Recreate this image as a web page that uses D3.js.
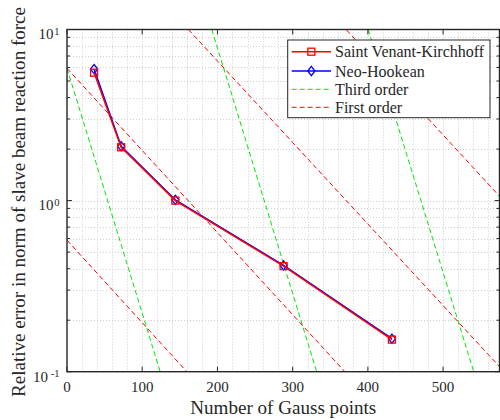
<!DOCTYPE html>
<html>
<head>
<meta charset="utf-8">
<script src="https://cdn.jsdelivr.net/npm/d3@7"></script>
<style>
  html, body { margin: 0; padding: 0; background: #fff; }
  svg { display: block; }
  text { font-family: "Liberation Serif", "Times New Roman", serif; fill: #262626; }
</style>
</head>
<body>
<svg id="chart" width="500" height="420"></svg>
<script>
// Gauss point counts and errors for the two material models
const gaussPoints = [36, 72, 144, 288, 432];
const svkError = [5.59, 2.05, 1.0, 0.414, 0.154];
const neoHookeanError = [5.87, 2.08, 1.01, 0.418, 0.156];

// Reference slope lines, each given by two end points [x, y]
const firstOrderLines = [
  [[0, 5.93], [369.4, 0.1]],
  [[0, 0.587], [159.3, 0.1]],
  [[161.4, 10], [575, 0.107]],
  [[371.7, 9.93], [575, 1.06]]
];
const thirdOrderLines = [
  [[0, 5.93], [123.9, 0.1]],
  [[192.5, 10], [331.9, 0.1]],
  [[400.4, 10], [540.7, 0.1]]
];

const xTicks = [0, 100, 200, 300, 400, 500];
const yTicks = [0.1, 1, 10];
const yTickExponents = ["-1", "0", "1"];
const xDomain = [0, 575];
const yDomain = [0.1, 10];

const legendLabels = ["Saint Venant-Kirchhoff", "Neo-Hookean", "Third order", "First order"];
const xLabel = "Number of Gauss points";
const yLabel = "Relative error in norm of slave beam reaction force";

const svg = d3.select("#chart");
const plotL = 67, plotR = 499.5, plotT = 29.5, plotB = 371.7;

const x = d3.scaleLinear().domain(xDomain).range([plotL, plotR]);
const y = d3.scaleLog().domain(yDomain).range([plotB, plotT]);

svg.append("rect").attr("width", 500).attr("height", 420).attr("fill", "#fff");

svg.append("defs").append("clipPath").attr("id", "plotClip")
  .append("rect").attr("x", plotL).attr("y", plotT)
  .attr("width", plotR - plotL).attr("height", plotB - plotT);

// Grid: dotted lines at every 20 units in x and at 1..9 per decade in y
const grid = svg.append("g").attr("stroke", "#cfcfcf").attr("stroke-width", 1)
  .attr("stroke-dasharray", "1,2");
const xGrid = d3.range(20, xDomain[1], 20);
grid.selectAll(".gx").data(xGrid).join("line")
  .attr("x1", d => Math.round(x(d)) + 0.5).attr("x2", d => Math.round(x(d)) + 0.5)
  .attr("y1", plotT).attr("y2", plotB);
const yGrid = y.ticks().filter(d => d > yDomain[0] && d < yDomain[1]);
grid.selectAll(".gy").data(yGrid).join("line")
  .attr("y1", d => Math.round(y(d)) + 0.5).attr("y2", d => Math.round(y(d)) + 0.5)
  .attr("x1", plotL).attr("x2", plotR);

// Reference lines
const plot = svg.append("g").attr("clip-path", "url(#plotClip)");
const line = d3.line().x(d => x(d[0])).y(d => y(d[1]));
plot.selectAll(".third").data(thirdOrderLines).join("path")
  .attr("d", line).attr("fill", "none").attr("stroke", "#00e600")
  .attr("stroke-width", 1).attr("stroke-dasharray", "5,3");
plot.selectAll(".first").data(firstOrderLines).join("path")
  .attr("d", line).attr("fill", "none").attr("stroke", "#ff0000")
  .attr("stroke-width", 1).attr("stroke-dasharray", "5,3");

// Data series
const seriesLine = d3.line().x(d => x(d[0])).y(d => y(d[1]));
const neoPts = gaussPoints.map((g, i) => [g, neoHookeanError[i]]);
const svkPts = gaussPoints.map((g, i) => [g, svkError[i]]);

function diamondPath(cx, cy) {
  const w = 3.6, h = 4.6;
  return `M${cx},${cy - h}L${cx + w},${cy}L${cx},${cy + h}L${cx - w},${cy}Z`;
}

svg.append("path").attr("d", seriesLine(neoPts)).attr("fill", "none")
  .attr("stroke", "#0000ff").attr("stroke-width", 1.5);
svg.selectAll(".neoMark").data(neoPts).join("path")
  .attr("d", d => diamondPath(x(d[0]), y(d[1])))
  .attr("fill", "none").attr("stroke", "#0000ff").attr("stroke-width", 1.3);

svg.append("path").attr("d", seriesLine(svkPts)).attr("fill", "none")
  .attr("stroke", "#ff0000").attr("stroke-width", 1.5);
svg.selectAll(".svkMark").data(svkPts).join("rect")
  .attr("x", d => x(d[0]) - 3.5).attr("y", d => y(d[1]) - 3.5)
  .attr("width", 7).attr("height", 7)
  .attr("fill", "none").attr("stroke", "#ff0000").attr("stroke-width", 1.3);

// Axes box and ticks (inward on all four sides)
const axisColor = "#262626";
svg.append("rect").attr("x", plotL).attr("y", plotT)
  .attr("width", plotR - plotL).attr("height", plotB - plotT)
  .attr("fill", "none").attr("stroke", axisColor).attr("stroke-width", 1.4);

const ticks = svg.append("g").attr("stroke", axisColor).attr("stroke-width", 1);
xTicks.forEach(t => {
  ticks.append("line").attr("x1", x(t)).attr("x2", x(t)).attr("y1", plotB).attr("y2", plotB - 5);
  ticks.append("line").attr("x1", x(t)).attr("x2", x(t)).attr("y1", plotT).attr("y2", plotT + 5);
});
y.ticks().forEach(t => {
  const major = yTicks.some(v => Math.abs(v - t) < 1e-9);
  const len = major ? 5 : 3;
  ticks.append("line").attr("x1", plotL).attr("x2", plotL + len).attr("y1", y(t)).attr("y2", y(t));
  ticks.append("line").attr("x1", plotR).attr("x2", plotR - len).attr("y1", y(t)).attr("y2", y(t));
});

// Tick labels
svg.selectAll(".xl").data(xTicks).join("text")
  .attr("x", d => x(d)).attr("y", plotB + 20.5)
  .attr("text-anchor", "middle").attr("font-size", 15).text(d => d);

yTicks.forEach((t, i) => {
  const ty = y(t);
  const supW = yTickExponents[i].length > 1 ? 10.5 : 5;
  svg.append("text").attr("x", 59.5 - supW - 1).attr("y", ty + 9.8)
    .attr("text-anchor", "end").attr("font-size", 15).text("10");
  svg.append("text").attr("x", 59.5).attr("y", ty + 5).attr("text-anchor", "end")
    .attr("font-size", 10.5).text(yTickExponents[i]);
});

// Axis titles
svg.append("text").attr("x", (plotL + plotR) / 2).attr("y", 414)
  .attr("text-anchor", "middle").attr("font-size", 18)
  .attr("textLength", 186).attr("lengthAdjust", "spacingAndGlyphs").text(xLabel);
svg.append("text").attr("transform", "translate(25,202) rotate(-90)")
  .attr("text-anchor", "middle").attr("font-size", 18)
  .attr("textLength", 390).attr("lengthAdjust", "spacingAndGlyphs").text(yLabel);

// Legend
const lg = svg.append("g");
lg.append("rect").attr("x", 287.7).attr("y", 40).attr("width", 202.3).attr("height", 77.7)
  .attr("fill", "#fff").attr("stroke", axisColor).attr("stroke-width", 1);
const rowY = [51.7, 71, 89.3, 107.3];
const lx1 = 291.7, lx2 = 331, lxm = (lx1 + lx2) / 2;
lg.append("line").attr("x1", lx1).attr("x2", lx2).attr("y1", rowY[0]).attr("y2", rowY[0])
  .attr("stroke", "#ff0000").attr("stroke-width", 1.5);
lg.append("rect").attr("x", lxm - 3.5).attr("y", rowY[0] - 3.5).attr("width", 7).attr("height", 7)
  .attr("fill", "none").attr("stroke", "#ff0000").attr("stroke-width", 1.3);
lg.append("line").attr("x1", lx1).attr("x2", lx2).attr("y1", rowY[1]).attr("y2", rowY[1])
  .attr("stroke", "#0000ff").attr("stroke-width", 1.5);
lg.append("path").attr("d", diamondPath(lxm, rowY[1]))
  .attr("fill", "none").attr("stroke", "#0000ff").attr("stroke-width", 1.3);
lg.append("line").attr("x1", lx1).attr("x2", lx2).attr("y1", rowY[2]).attr("y2", rowY[2])
  .attr("stroke", "#00e600").attr("stroke-width", 1).attr("stroke-dasharray", "5,3");
lg.append("line").attr("x1", lx1).attr("x2", lx2).attr("y1", rowY[3]).attr("y2", rowY[3])
  .attr("stroke", "#ff0000").attr("stroke-width", 1).attr("stroke-dasharray", "5,3");
lg.selectAll(".lt").data(legendLabels).join("text")
  .attr("x", 335).attr("y", (d, i) => rowY[i] + 5.5).attr("font-size", 16).text(d => d);
</script>
</body>
</html>
